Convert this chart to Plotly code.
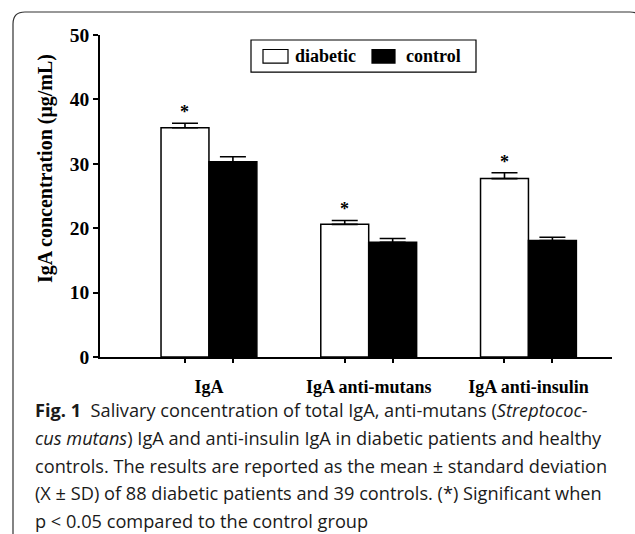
import plotly.graph_objects as go

# ---------------- data ----------------
categories = ["IgA", "IgA anti-mutans", "IgA anti-insulin"]
series_names = ["diabetic", "control"]
series_fill = ["white", "black"]
diabetic_mean = [35.6, 20.6, 27.7]
diabetic_sd = [0.7, 0.6, 0.9]
control_mean = [30.3, 17.8, 18.1]
control_sd = [0.8, 0.6, 0.5]
diabetic_significant = [True, True, True]
y_tick_values = [0, 10, 20, 30, 40, 50]
y_title = "IgA concentration (μg/mL)"
caption_lines = [
    "<b>Fig. 1</b>&nbsp;&nbsp;Salivary concentration of total IgA, anti-mutans (<i>Streptococ-</i>",
    "<i>cus mutans</i>) IgA and anti-insulin IgA in diabetic patients and healthy",
    "controls. The results are reported as the mean ± standard deviation",
    "(X ± SD) of 88 diabetic patients and 39 controls. (*) Significant when",
    "p &lt; 0.05 compared to the control group",
]

# ---------------- layout geometry ----------------
W, H = 635, 534
L, R, T, B = 100, 23, 35, 177.3
PW = W - L - R
PH = H - T - B


def fx(x):
    return (x - L) / PW


def fy(y):
    return (H - B - y) / PH


SERIF = "Liberation Serif, Times New Roman, serif"
SANS = "Open Sans, Noto Sans, sans-serif"

idx = list(range(len(categories)))
bar_w = 0.3

fig = go.Figure()
for name, fill, means, sds in zip(series_names, series_fill,
                                  [diabetic_mean, control_mean],
                                  [diabetic_sd, control_sd]):
    fig.add_trace(go.Bar(
        x=idx, y=means, name=name, showlegend=False,
        marker=dict(color=fill, line=dict(color="black", width=1.5)),
        error_y=dict(type="data", symmetric=False, array=sds,
                     arrayminus=[0] * len(sds), color="black",
                     thickness=1.6, width=13),
    ))

annotations = []
for i, m, s, sig in zip(idx, diabetic_mean, diabetic_sd, diabetic_significant):
    if sig:
        annotations.append(dict(
            x=i - bar_w / 2, y=m + s, xref="x", yref="y", text="<b>*</b>",
            showarrow=False, yanchor="bottom", xanchor="center", yshift=-1,
            font=dict(family=SERIF, size=18, color="black"),
        ))

annotations.append(dict(
    x=fx(45), y=fy(169), xref="paper", yref="paper", text="<b>" + y_title + "</b>",
    textangle=-90, showarrow=False, xanchor="center", yanchor="middle",
    font=dict(family=SERIF, size=20, color="black"),
))

caption_y = [410, 438, 465.5, 493, 520.5]
for line, cy in zip(caption_lines, caption_y):
    annotations.append(dict(
        x=fx(33), y=fy(cy), xref="paper", yref="paper", text=line,
        showarrow=False, xanchor="left", yanchor="middle", align="left",
        font=dict(family=SANS, size=18.2, color="#1a1a1a"),
    ))

# rounded frame
x0, y0, x1, y1, r = 13, 12, 642, 548, 12
path = (
    f"M {fx(x0 + r)},{fy(y0)} L {fx(x1 - r)},{fy(y0)} "
    f"Q {fx(x1)},{fy(y0)} {fx(x1)},{fy(y0 + r)} L {fx(x1)},{fy(y1 - r)} "
    f"Q {fx(x1)},{fy(y1)} {fx(x1 - r)},{fy(y1)} L {fx(x0 + r)},{fy(y1)} "
    f"Q {fx(x0)},{fy(y1)} {fx(x0)},{fy(y1 - r)} L {fx(x0)},{fy(y0 + r)} "
    f"Q {fx(x0)},{fy(y0)} {fx(x0 + r)},{fy(y0)} Z"
)
shapes = [dict(type="path", path=path, xref="paper", yref="paper",
               line=dict(color="#333333", width=1.2), layer="below")]

# legend drawn by hand (wide swatches like the original)
shapes.append(dict(type="rect", xref="paper", yref="paper",
                   x0=fx(251), x1=fx(476), y0=fy(40), y1=fy(72),
                   line=dict(color="black", width=1.2), fillcolor="white"))
legend_swatch_x = [(263, 288), (372, 395)]
legend_text_x = [293, 404]
for name, fill, (sx0, sx1), tx in zip(series_names, series_fill, legend_swatch_x, legend_text_x):
    shapes.append(dict(type="rect", xref="paper", yref="paper",
                       x0=fx(sx0), x1=fx(sx1), y0=fy(49.5), y1=fy(63),
                       line=dict(color="black", width=1.2), fillcolor=fill))
    annotations.append(dict(
        x=fx(tx), y=fy(56), xref="paper", yref="paper", text="<b>" + name + "</b>",
        showarrow=False, xanchor="left", yanchor="middle",
        font=dict(family=SERIF, size=18, color="black"),
    ))

minor_ticks = [i + o for i in idx for o in (-bar_w / 2, bar_w / 2)]

fig.update_layout(
    width=W, height=H,
    margin=dict(l=L, r=R, t=T, b=B, pad=0),
    paper_bgcolor="white", plot_bgcolor="white",
    barmode="group", bargap=0.4, bargroupgap=0,
    showlegend=False,
    xaxis=dict(
        range=[-0.682, 2.523], showgrid=False, zeroline=False,
        showline=True, linecolor="black", linewidth=1.6,
        tickmode="array", tickvals=idx, ticktext=["<b>" + c + "</b>" for c in categories],
        ticks="outside", ticklen=13, tickcolor="rgba(0,0,0,0)",
        tickfont=dict(family=SERIF, size=18, color="black"),
        minor=dict(tickmode="array", tickvals=minor_ticks, ticks="outside",
                   ticklen=4, tickwidth=1.6, tickcolor="black"),
        fixedrange=True,
    ),
    yaxis=dict(
        range=[0, 50], showgrid=False, zeroline=False,
        showline=True, linecolor="black", linewidth=1.6,
        tickmode="array", tickvals=y_tick_values,
        ticktext=["<b>%d</b>" % v for v in y_tick_values],
        ticks="outside", ticklen=5, tickwidth=1.6, tickcolor="black",
        tickfont=dict(family=SERIF, size=19.5, color="black"),
        fixedrange=True,
    ),
    annotations=annotations,
    shapes=shapes,
)

fig.write_html(
    "out.html",
    config={"displayModeBar": False},
    post_script="document.body.style.margin='0px';document.body.style.overflow='hidden';",
)
